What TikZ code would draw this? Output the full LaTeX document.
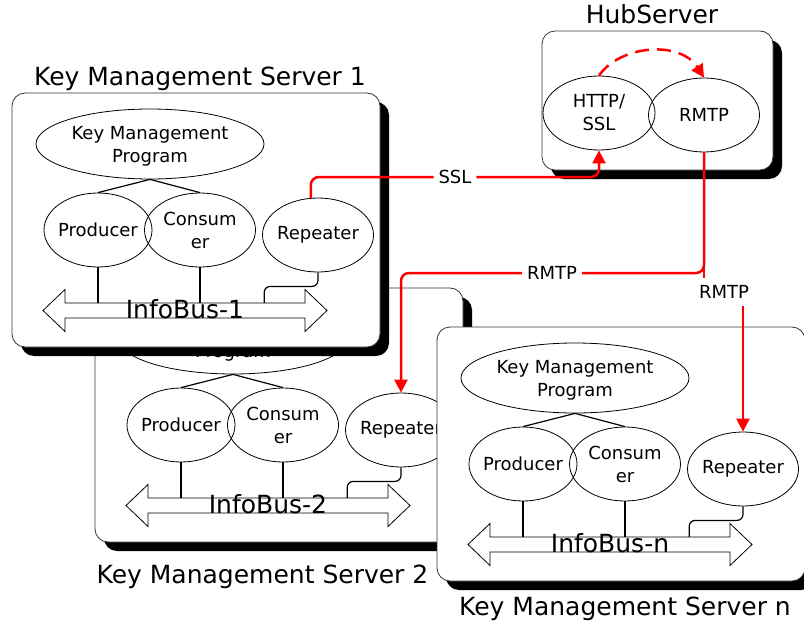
\documentclass[tikz,border=0pt]{standalone}
\usepackage{fontspec}
\setmainfont{DejaVu Sans}
\usetikzlibrary{shapes.geometric,arrows.meta,shadows}

\tikzset{
  srvbox/.style={draw=black!80, line width=0.8pt, fill=white, rounded corners=13pt,
    drop shadow={shadow xshift=9pt, shadow yshift=-9pt, fill=black, opacity=1}},
  ell/.style={ellipse, draw, line width=0.8pt, inner sep=0pt},
  txt/.style={align=center, inner sep=0pt},
  wire/.style={line width=1.2pt},
  busline/.style={line width=0.8pt, fill=white},
  redline/.style={draw=red, line width=2.5pt},
  tip/.style={-{Triangle[length=13pt,width=13pt]}},
  plabel/.style={fill=white, text=black, inner xsep=5pt, inner ysep=6pt},
  title/.style={font=\fontsize{25}{30}\selectfont, anchor=base, inner sep=0pt},
}

% One key management server: #1 offset, #2 name suffix, #3 bus label
\newcommand\kmserver[3]{%
\begin{scope}[shift={(#1)}]
  \node[srvbox, minimum width=368pt, minimum height=254pt] (box#2) at (196,220) {};
  \node[ell, minimum width=228pt, minimum height=70pt] (kmp#2) at (150,144) {};
  \node[txt] (kmp#2t) at ([yshift=-2pt]kmp#2.center) {Key Management\\Program};
  \node[ell, minimum width=108pt, minimum height=74pt] (prod#2) at (98,230) {};
  \node[txt] (prod#2t) at (prod#2) {Producer};
  \node[ell, minimum width=111pt, minimum height=74pt] (cons#2) at (200,230) {};
  \node[txt] (cons#2t) at (cons#2) {Consum\\er};
  \node[ell, minimum width=111pt, minimum height=74pt] (rep#2) at (318,235) {};
  \node[txt] (rep#2t) at (rep#2) {Repeater};
  % the InfoBus: a double-headed block arrow
  \node[minimum width=240pt, minimum height=15pt, inner sep=0pt] (bus#2) at (185,310.5) {};
  \draw[busline] (43,310.5) -- (65,289.5) -- (65,303) -- (305,303) -- (305,289.5)
    -- (327,310.5) -- (305,331.5) -- (305,318) -- (65,318) -- (65,331.5) -- cycle;
  \node[font=\fontsize{25}{30}\selectfont, anchor=base, inner sep=0pt] (bus#2t)
    at ([yshift=-7.5pt]bus#2.center) {#3};
  \draw[wire] (kmp#2.south) -- (prod#2.north);
  \draw[wire] (kmp#2.south) -- (cons#2.north);
  \draw[wire] (prod#2.south) -- (prod#2.south |- bus#2.north);
  \draw[wire] (cons#2.south) -- (cons#2.south |- bus#2.north);
  \draw[wire, rounded corners=6pt] (rep#2.south) -- ++(0,14)
    -| ([xshift=-41pt]bus#2.north east);
\end{scope}}

\begin{document}
\begin{tikzpicture}[x=1pt, y=-1pt, font=\fontsize{18}{23}\selectfont]
  \useasboundingbox (0,0) rectangle (804,626);
  \fill[white] (0,0) rectangle (804,626);

  \kmserver{83,195}{2}{InfoBus-2}
  \kmserver{0,0}{1}{InfoBus-1}
  \kmserver{425,234}{n}{InfoBus-n}

  % hub server
  \node[srvbox, minimum width=231pt, minimum height=139pt] (hub) at (657.5,100.5) {};
  \node[ell, minimum width=112pt, minimum height=74pt] (http) at (599,113) {};
  \node[txt] (httpt) at (http) {HTTP/\\SSL};
  \node[ell, minimum width=111pt, minimum height=74pt] (rmtp) at (704,115) {};
  \node[txt] (rmtpt) at (rmtp) {RMTP};

  % titles
  \node[title] (t1) at (200,86) {Key Management Server 1};
  \node[title] (t2) at (262.5,583) {Key Management Server 2};
  \node[title] (tn) at (625,615) {Key Management Server n};
  \node[title] (thub) at (652,24) {HubServer};

  % red links
  \coordinate (sslbend) at (455,177);
  \coordinate (rbend1) at (552,273);
  \coordinate (rbend2) at (724,292);
  \draw[redline, tip, rounded corners=8pt] (rep1.101) |- (sslbend)
    node[plabel] (ssl) {SSL} -| (http.south);
  \draw[redline, tip] (rmtp.south) |- (rbend2)
    node[plabel, inner ysep=7pt] (rmtpb) {RMTP} -| (repn.north);
  \draw[redline, tip, rounded corners=8pt] (rmtp.south) |- (rbend1)
    node[plabel] (rmtpa) {RMTP} -| (rep2.north);
  \draw[redline, tip, dash pattern=on 14pt off 8pt]
    (http.north) .. controls (620,45) and (680,40) .. (rmtp.north);
\end{tikzpicture}
\end{document}
